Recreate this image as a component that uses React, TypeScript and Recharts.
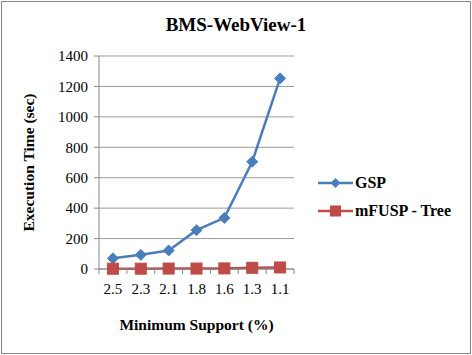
import { LineChart, Line, XAxis, YAxis, CartesianGrid, Legend } from 'recharts';

const categories = ['2.5', '2.3', '2.1', '1.8', '1.6', '1.3', '1.1'];
const gspValues = [70, 93, 122, 255, 336, 705, 1253];
const mfuspValues = [2, 2, 3, 3, 4, 8, 10];
const yTicks = [0, 200, 400, 600, 800, 1000, 1200, 1400];

const data = categories.map((name, i) => ({ name, gsp: gspValues[i], mfusp: mfuspValues[i] }));

const FONT = 'Liberation Serif, DejaVu Serif, serif';
const BLUE = '#4A7EBB';
const RED = '#BE4B48';
const AXIS = '#868686';

const Diamond = (props: any) => {
  const { cx, cy } = props;
  if (cx == null || cy == null) return null;
  const r = 5.5;
  return <path d={`M${cx},${cy - r}L${cx + r},${cy}L${cx},${cy + r}L${cx - r},${cy}Z`} fill={BLUE} stroke={BLUE} />;
};

const Square = (props: any) => {
  const { cx, cy } = props;
  if (cx == null || cy == null) return null;
  const r = 5.5;
  return <rect x={cx - r} y={cy - r} width={r * 2} height={r * 2} fill={RED} stroke={RED} />;
};

// category tick: label at band centre, tick marks on the band edges (Excel style)
const CatTick = (props: any) => {
  const { x, y, payload, index, visibleTicksCount } = props;
  const half = payload?.offset ?? 0;
  const axisY = y - 13;
  return (
    <g>
      <line x1={x - half} y1={axisY} x2={x - half} y2={axisY + 5} stroke={AXIS} />
      {index === visibleTicksCount - 1 && (
        <line x1={x + half} y1={axisY} x2={x + half} y2={axisY + 5} stroke={AXIS} />
      )}
      <text x={x} y={y + 1} dy="0.71em" textAnchor="middle" fontFamily={FONT} fontSize={15} fill="#000">
        {payload.value}
      </text>
    </g>
  );
};

const LegendContent = () => (
  <div style={{ fontFamily: FONT, fontWeight: 'bold', fontSize: 16, color: '#000' }}>
    {[
      { label: 'GSP', color: BLUE, shape: 'diamond' },
      { label: 'mFUSP - Tree', color: RED, shape: 'square' },
    ].map((item) => (
      <div key={item.label} style={{ display: 'flex', alignItems: 'center', height: 28 }}>
        <svg width={36} height={14}>
          <line x1={0} y1={7} x2={35} y2={7} stroke={item.color} strokeWidth={2.5} />
          {item.shape === 'diamond' ? (
            <path d="M17.5,2L22.5,7L17.5,12L12.5,7Z" fill={item.color} />
          ) : (
            <rect x={12} y={1.5} width={11} height={11} fill={item.color} />
          )}
        </svg>
        <span style={{ marginLeft: 1 }}>{item.label}</span>
      </div>
    ))}
  </div>
);

export default function App() {
  return (
    <div style={{ position: 'absolute', left: 0, top: 0, width: 472, height: 355, background: '#fff' }}>
      <div
        style={{
          position: 'absolute',
          left: 1,
          top: 1,
          width: 468,
          height: 351,
          border: '1px solid #868686',
        }}
      />
      <div
        style={{
          position: 'absolute',
          left: 0,
          top: 14,
          width: 472,
          textAlign: 'center',
          fontFamily: FONT,
          fontWeight: 'bold',
          fontSize: 19,
          color: '#000',
        }}
      >
        BMS-WebView-1
      </div>
      <LineChart
        width={472}
        height={355}
        data={data}
        margin={{ top: 56, right: 178, bottom: 46, left: 20 }}
        style={{ position: 'absolute', left: 0, top: 0 }}
      >
        <CartesianGrid vertical={false} stroke="#9a9a9a" />
        <XAxis
          dataKey="name"
          scale="band"
          height={40}
          stroke={AXIS}
          tickLine={false}
          tickSize={5}
          tickMargin={8}
          tick={<CatTick />}
          label={{
            value: 'Minimum Support (%)',
            position: 'bottom',
            offset: 10,
            style: { fontFamily: FONT, fontWeight: 'bold', fontSize: 15.5, fill: '#000' },
          }}
        />
        <YAxis
          domain={[0, 1400]}
          ticks={yTicks}
          width={79}
          stroke={AXIS}
          tickSize={5}
          tickMargin={6}
          tick={{ fontFamily: FONT, fontSize: 15, fill: '#000' }}
          label={{
            value: 'Execution Time (sec)',
            angle: -90,
            position: 'insideLeft',
            offset: 8,
            style: { fontFamily: FONT, fontWeight: 'bold', fontSize: 15.5, fill: '#000', textAnchor: 'middle' },
          }}
        />
        <Legend
          layout="horizontal"
          align="center"
          verticalAlign="middle"
          content={<LegendContent />}
          wrapperStyle={{ position: 'absolute', left: 318, top: 169, width: 150 }}
        />
        <Line
          dataKey="gsp"
          name="GSP"
          stroke={BLUE}
          strokeWidth={2.5}
          dot={<Diamond />}
          activeDot={false}
          isAnimationActive={false}
        />
        <Line
          dataKey="mfusp"
          name="mFUSP - Tree"
          stroke={RED}
          strokeWidth={2.5}
          dot={<Square />}
          activeDot={false}
          isAnimationActive={false}
        />
      </LineChart>
    </div>
  );
}
